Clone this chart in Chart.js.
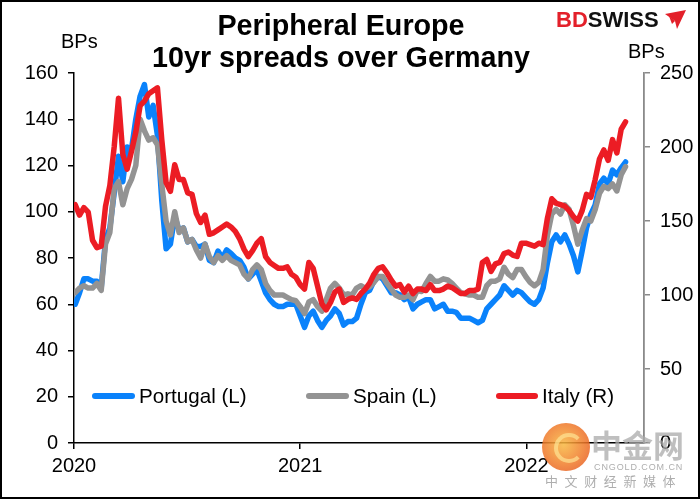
<!DOCTYPE html>
<html><head><meta charset="utf-8">
<script src="https://cdn.jsdelivr.net/npm/chart.js@4.4.1/dist/chart.umd.min.js"></script>
<style>
html,body{margin:0;padding:0;background:#fff;}
#wrap{position:relative;width:700px;height:499px;overflow:hidden;font-family:"Liberation Sans",Arial,sans-serif;color:#000;}
#c{position:absolute;left:0;top:0;}
#frame{position:absolute;left:0;top:0;width:700px;height:499px;box-sizing:border-box;border:2px solid #000;pointer-events:none;}
.t{position:absolute;white-space:nowrap;}
.title{left:-9px;width:700px;text-align:center;font-weight:bold;font-size:28.7px;line-height:34px;}
.lab{font-size:20px;line-height:20px;}
.sw{position:absolute;height:6px;border-radius:3px;}
</style></head><body>
<div id="wrap">
<canvas id="c" width="700" height="499"></canvas>
<div class="t title" style="top:8px">Peripheral Europe</div>
<div class="t title" style="top:40px">10yr spreads over Germany</div>
<div class="t lab" style="left:61px;top:31px">BPs</div>
<div class="t lab" style="left:628px;top:41px">BPs</div>
<div class="t" style="left:556px;top:9px;font-weight:bold;font-size:22px;line-height:22px;letter-spacing:0px"><span style="color:#e3202a">BD</span><span style="color:#111">SWISS</span></div>
<svg class="t" style="left:663px;top:10px" width="24" height="20" viewBox="0 0 24 20"><polygon points="2,4 23,0 14,19 12,11" fill="#e3202a"/><polygon points="6,6 12,11 9,14" fill="#e3202a"/></svg>
<div id="legend"></div>
<div class="t" style="left:542px;top:423px;width:48px;height:48px;border-radius:50%;background:radial-gradient(circle at 45% 45%, #f8b840 0%, #f07a2a 55%, #e14a1c 100%);opacity:0.85"></div>
<div class="t" style="left:554px;top:433px;width:22px;height:22px;border-radius:50%;border:4px solid rgba(255,230,150,0.8);border-right-color:transparent;opacity:0.85"></div>
<div class="t" style="left:591px;top:427px;font-family:'Noto Sans CJK SC';font-weight:bold;font-size:31px;line-height:34px;color:rgba(170,170,170,0.75)">中金网</div>
<div class="t" style="left:594px;top:462px;font-size:9px;line-height:10px;letter-spacing:0.9px;color:rgba(160,160,160,0.85)">CNGOLD.COM.CN</div>
<div class="t" style="left:545px;top:474px;font-family:'Noto Sans CJK SC';font-size:13px;line-height:14px;letter-spacing:6.6px;color:rgba(160,160,160,0.85)">中文财经新媒体</div>
<div id="frame"></div>
</div>
<script>
// ---- data (weekly observations, first week ending 2020-01-03) ----
const firstWeek = '2020-01-03';
const seriesNames = ['Portugal (L)', 'Spain (L)', 'Italy (R)'];
const portugal = [60,65,71,71,70,70,67,88,93,108,
  124,113,128,127,140,150,155,141,146,133,
  105,84,86,98,92,93,87,88,85,85,
  86,79,78,83,80,83.5,82,80,79,76,
  71,73,75,70,65,62,60,59,59,60,
  60,60,55,50,55,57,53,50,53,55,
  58,56,51,52.5,52.5,54,60,65,66,70,
  72,71,68,65,65,64,62,63,58,60,
  61,62,62,58,59,60,57,57,56.5,54,
  54,54,53,52,53,58,60,62,64,68,
  66,64,66,65,63,61,60,62,67,78,
  87,90,87,90,86,81,74,83,93,99,
  103,112,114.5,112,118,116,119,121.5];
const spain = [65,67,68,67,67,69,66,86,91,110,
  113,103,110,114,120,140,135,131,132,129,
  112,96,90,100,91,93,87,88,83.5,80,
  86,80.6,78,81,79,81,79,78,77,73,
  71,75,77,75,69,66,64,64,64,63,
  62,61.5,59,56,61,62,59,57,62,67,
  69,67,64,64.5,64,67,68,67,67.5,69.5,
  72,72,69,66.5,64,63,63,64,62,66,
  65.5,69,72,70,70,71,70.5,69,67,65,
  64.5,64,64,63,63,68,70,70,71,76,
  73,71.5,75,75,72,69.5,68,69.5,75,90,
  99,101,99,103,101,94,86,92,97,96,
  101,108,111,110,112,109,116,119.5];
const italy = [161,154,159,156,137,132,133,160,174,200,
  233,195,185,197,210,228,231,236,238,240,
  205,176,170,188,178,178,169,168,155,149,
  154,141,142,144,146,148,146,143,138,131,
  126,130,135,138,126,122,120,118,118,119,
  114,112,107,104,122,118,106,94,90,95,
  102,104,95,97,98,97,101,104,108,114,
  118,119,115,110,106,107,102,106,101,104,
  104,103,107,103,103,104,106,105,103,101,
  101,103,103,104,122,124,116,121,122,128,
  129,127,126,135,135,134,133,135,134,152,
  165,162,161,160,157,153,150,157,168,166,
  178,192,198,191,205,196,212,217];
const yearTicks = [2020, 2021, 2022];
const leftAxis = {min: 0, max: 160, step: 20};
const rightAxis = {min: 0, max: 250, step: 50};
const xRange = {min: 2020, max: 2022.52};
const colors = ['#0a82fb', '#939393', '#ec1c24'];

// ---- build ----
function yearFrac(d){
  const y = d.getUTCFullYear();
  const s = Date.UTC(y,0,1), e = Date.UTC(y+1,0,1);
  return y + (d.getTime() - s) / (e - s);
}
const xs = portugal.map((_, i) => {
  const d = new Date(firstWeek + 'T00:00:00Z');
  d.setUTCDate(d.getUTCDate() + 7*i);
  return yearFrac(d);
});
const pts = arr => arr.map((v, i) => ({x: xs[i], y: v}));
const FONT = {family: "'Liberation Sans', Arial, sans-serif", size: 20};

const common = {borderWidth: 5.5, pointRadius: 0, pointHoverRadius: 0, borderCapStyle: 'round', borderJoinStyle: 'round', tension: 0, fill: false};
const datasets = [
  Object.assign({label: seriesNames[0], data: pts(portugal), borderColor: colors[0], yAxisID: 'y', order: 3}, common),
  Object.assign({label: seriesNames[1], data: pts(spain), borderColor: colors[1], yAxisID: 'y', order: 2}, common),
  Object.assign({label: seriesNames[2], data: pts(italy), borderColor: colors[2], yAxisID: 'y1', order: 1}, common)
];

const axisGrid = c => ({display: true, drawOnChartArea: false, drawTicks: true, tickLength: 6, color: c, lineWidth: 1.5});

new Chart(document.getElementById('c'), {
  type: 'line',
  data: {datasets},
  options: {
    responsive: false,
    animation: false,
    layout: {padding: {top: 73, left: 0, right: 0, bottom: 0}},
    plugins: {legend: {display: false}, tooltip: {enabled: false}},
    scales: {
      x: {
        type: 'linear', min: xRange.min, max: xRange.max,
        afterBuildTicks: s => { s.ticks = yearTicks.map(v => ({value: v})); },
        afterFit: s => { s.height = 56; },
        ticks: {font: FONT, color: '#000', padding: 5, maxRotation: 0, autoSkip: false, callback: v => String(v)},
        grid: axisGrid('#000'),
        border: {display: true, color: '#000', width: 1.5}
      },
      y: {
        position: 'left', min: leftAxis.min, max: leftAxis.max,
        afterFit: s => { s.width = 74; },
        ticks: {stepSize: leftAxis.step, font: FONT, color: '#000', padding: 10},
        grid: axisGrid('#000'),
        border: {display: true, color: '#000', width: 1.5}
      },
      y1: {
        position: 'right', min: rightAxis.min, max: rightAxis.max,
        afterFit: s => { s.width = 56; },
        ticks: {stepSize: rightAxis.step, font: FONT, color: '#000', padding: 10},
        grid: axisGrid('#8a8a8a'),
        border: {display: true, color: '#8a8a8a', width: 1.8}
      }
    }
  }
});

// ---- legend (inside plot) ----
const legendPos = [{sw: 92, tx: 139}, {sw: 306, tx: 353}, {sw: 496, tx: 542}];
const lg = document.getElementById('legend');
datasets.forEach((ds, i) => {
  const s = document.createElement('div');
  s.className = 'sw';
  s.style.cssText = `left:${legendPos[i].sw}px;top:393px;width:${legendPos[i].tx - legendPos[i].sw - 4}px;background:${ds.borderColor}`;
  lg.appendChild(s);
  const t = document.createElement('div');
  t.className = 't lab';
  t.style.cssText = `left:${legendPos[i].tx}px;top:386px;font-size:20.6px`;
  t.textContent = ds.label;
  lg.appendChild(t);
});
</script>
</body></html>
